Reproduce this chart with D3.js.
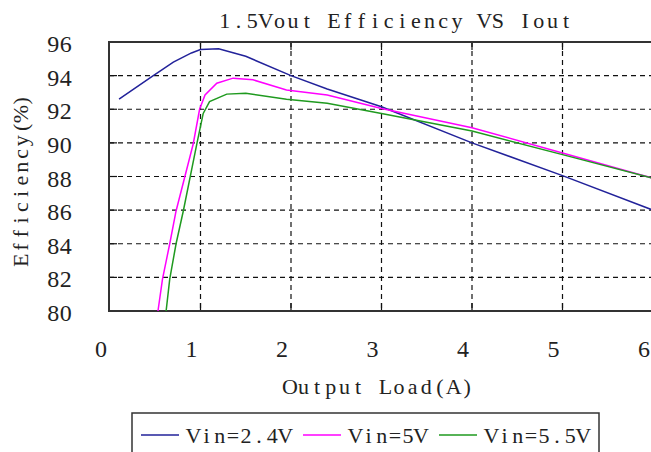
<!DOCTYPE html>
<html>
<head>
<meta charset="utf-8">
<title>1.5Vout Efficiency VS Iout</title>
<script src="https://d3js.org/d3.v7.min.js"></script>
<style>
  body { margin: 0; background: #fff; }
  text { font-family: "Liberation Serif", "DejaVu Serif", serif; fill: #222; }
  .grid line { stroke: #111; stroke-width: 1.2; stroke-dasharray: 5,4; }
</style>
</head>
<body>
<div id="chart"></div>
<script>
// values
var seriesNames = ["Vin=2.4V", "Vin=5V", "Vin=5.5V"];
var seriesColors = ["#22229a", "#ff00ff", "#1f9a1f"];

var vin24 = [[0.1, 92.6], [0.45, 93.9], [0.7, 94.8], [0.9, 95.35], [1.0, 95.55], [1.2, 95.6], [1.5, 95.15],
             [2.0, 94.0], [2.4, 93.2], [3.0, 92.15], [4.0, 90.0], [5.0, 88.05], [6.0, 86.0]];
var vin50 = [[0.53, 80.0], [0.58, 81.9], [0.66, 84.0], [0.73, 85.95], [0.92, 89.95], [0.99, 92.0],
             [1.05, 92.85], [1.18, 93.55], [1.36, 93.85], [1.58, 93.75], [1.95, 93.15], [2.4, 92.85],
             [3.0, 92.05], [4.0, 90.9], [5.0, 89.4], [5.86, 88.1], [6.0, 87.9]];
var vin55 = [[0.62, 80.0], [0.66, 81.9], [0.73, 84.0], [0.81, 85.95], [0.96, 89.95], [1.03, 91.75],
             [1.1, 92.45], [1.29, 92.9], [1.5, 92.95], [1.95, 92.6], [2.4, 92.35], [3.0, 91.75],
             [4.0, 90.7], [5.0, 89.3], [6.0, 87.9]];
var seriesData = [vin24, vin50, vin55];

var xTicks = [0, 1, 2, 3, 4, 5, 6];
var yTicks = [80, 82, 84, 86, 88, 90, 92, 94, 96];

var W = 651, H = 452;
var plot = {left: 109, top: 42, right: 653, bottom: 311};

var x = d3.scaleLinear().domain([0, 6]).range([110, 653]);
var y = d3.scaleLinear().domain([80, 96]).range([plot.bottom, plot.top]);

var svg = d3.select("#chart").append("svg")
    .attr("width", W)
    .attr("height", H);

// fixed-pitch text, one tspan per character
function monoText(parent, str, x0, y0, adv, size) {
  var t = parent.append("text")
      .attr("y", y0)
      .attr("text-anchor", "middle")
      .style("font-size", size + "px");
  t.selectAll("tspan").data(str.split(""))
    .enter().append("tspan")
      .attr("x", function(c, i) { return x0 + adv * i + adv / 2; })
      .text(function(c) { return c; });
  return t;
}

svg.append("defs").append("clipPath").attr("id", "clip")
  .append("rect")
    .attr("x", plot.left).attr("y", plot.top)
    .attr("width", plot.right - plot.left).attr("height", plot.bottom - plot.top);

// grid
var grid = svg.append("g").attr("class", "grid");
grid.selectAll(".gx").data(xTicks.filter(function(d) { return d > 0; }))
  .enter().append("line")
    .attr("x1", function(d) { return x(d); }).attr("x2", function(d) { return x(d); })
    .attr("y1", plot.top).attr("y2", plot.bottom);
grid.selectAll(".gy").data(yTicks.filter(function(d) { return d > 80 && d < 96; }))
  .enter().append("line")
    .attr("x1", plot.left).attr("x2", plot.right)
    .attr("y1", function(d) { return y(d); }).attr("y2", function(d) { return y(d); });

// inner tick marks
var ticks = svg.append("g").attr("stroke", "#111").attr("stroke-width", 1.2);
xTicks.filter(function(d) { return d > 0; }).forEach(function(d) {
  ticks.append("line").attr("x1", x(d)).attr("x2", x(d)).attr("y1", plot.bottom).attr("y2", plot.bottom - 8);
  ticks.append("line").attr("x1", x(d)).attr("x2", x(d)).attr("y1", plot.top).attr("y2", plot.top + 8);
});
yTicks.filter(function(d) { return d > 80 && d < 96; }).forEach(function(d) {
  ticks.append("line").attr("x1", plot.left).attr("x2", plot.left + 8).attr("y1", y(d)).attr("y2", y(d));
});

// frame
svg.append("path")
    .attr("d", "M" + plot.right + "," + plot.top + "H" + plot.left + "V" + plot.bottom + "H" + plot.right)
    .attr("fill", "none")
    .attr("stroke", "#333")
    .attr("stroke-width", 2);

// lines
var line = d3.line()
    .x(function(d) { return x(d[0]); })
    .y(function(d) { return y(d[1]); });

svg.append("g").attr("clip-path", "url(#clip)")
  .selectAll("path").data(seriesData)
  .enter().append("path")
    .attr("d", line)
    .attr("fill", "none")
    .attr("stroke", function(d, i) { return seriesColors[i]; })
    .attr("stroke-width", 1.5);

// tick labels
var yl = svg.append("g");
yTicks.forEach(function(d) {
  monoText(yl, String(d), 47, y(d) + 10, 12.5, 24);
});
var xl = svg.append("g");
xTicks.forEach(function(d) {
  monoText(xl, String(d), x(d) - 9 - 6.25, plot.bottom + 46, 12.5, 24);
});

// titles
monoText(svg, "1.5Vout Efficiency VS Iout", 218, 28, 13.65, 22);
monoText(svg, "Output Load(A)", 283, 394, 13.65, 22);
var yt = svg.append("g").attr("transform", "translate(28,267) rotate(-90)");
monoText(yt, "Efficiency(%)", 0, 0, 13.3, 22);

// legend
var legend = svg.append("g");
legend.append("rect")
    .attr("x", 132).attr("y", 413)
    .attr("width", 467).attr("height", 50)
    .attr("fill", "#fff")
    .attr("stroke", "#333")
    .attr("stroke-width", 1.5);

var legendX = [141, 303, 439];
seriesNames.forEach(function(name, i) {
  legend.append("line")
    .attr("x1", legendX[i]).attr("x2", legendX[i] + 38)
    .attr("y1", 435).attr("y2", 435)
    .attr("stroke", seriesColors[i])
    .attr("stroke-width", 1.5);
  monoText(legend, name, legendX[i] + 46, 443, 13.1, 22);
});
</script>
</body>
</html>
